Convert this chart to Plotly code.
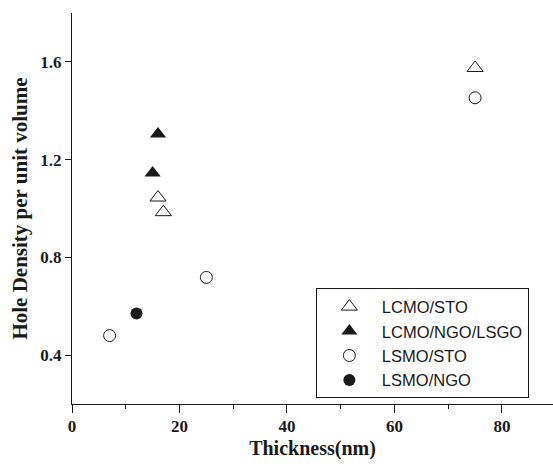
import plotly.graph_objects as go

# Data
lcmo_sto_x = [16, 17, 75]
lcmo_sto_y = [1.045, 0.985, 1.575]
lcmo_ngo_x = [15, 16]
lcmo_ngo_y = [1.145, 1.305]
lsmo_sto_x = [7, 25, 75]
lsmo_sto_y = [0.48, 0.718, 1.453]
lsmo_ngo_x = [12]
lsmo_ngo_y = [0.57]

x_ticks = [0, 20, 40, 60, 80]
y_ticks = [0.4, 0.8, 1.2, 1.6]

ink = "#1a1a1a"
serif = "Liberation Serif"

fig = go.Figure()
fig.add_trace(go.Scatter(x=lcmo_sto_x, y=lcmo_sto_y, mode="markers", name="LCMO/STO",
                         marker=dict(symbol="triangle-up-open", size=14, color=ink, line=dict(width=1))))
fig.add_trace(go.Scatter(x=lcmo_ngo_x, y=lcmo_ngo_y, mode="markers", name="LCMO/NGO/LSGO",
                         marker=dict(symbol="triangle-up", size=14, color=ink, line=dict(width=0))))
fig.add_trace(go.Scatter(x=lsmo_sto_x, y=lsmo_sto_y, mode="markers", name="LSMO/STO",
                         marker=dict(symbol="circle-open", size=12, color=ink, line=dict(width=1))))
fig.add_trace(go.Scatter(x=lsmo_ngo_x, y=lsmo_ngo_y, mode="markers", name="LSMO/NGO",
                         marker=dict(symbol="circle", size=12, color=ink, line=dict(width=0))))

xr = [0, 89.5]
yr = [0.2, 1.8]

fig.update_layout(
    width=553, height=464,
    margin=dict(l=72, r=0, t=13, b=60),
    paper_bgcolor="white", plot_bgcolor="white",
    showlegend=True,
    legend=dict(x=0.507, y=0.155, xanchor="left", yanchor="middle",
                bordercolor=ink, borderwidth=1, bgcolor="white",
                font=dict(family="Liberation Sans", size=16.5, color=ink),
                itemwidth=55, tracegroupgap=0),
    xaxis=dict(range=xr, tickvals=x_ticks, ticks="outside", ticklen=8, tickwidth=1.3,
               tickcolor=ink, showline=True, linecolor=ink, linewidth=1.3,
               showgrid=False, zeroline=False, automargin=False, ticklabelstandoff=-2,
               minor=dict(dtick=10, tick0=0, ticks="outside", ticklen=4, tickwidth=1.3, tickcolor=ink),
               tickfont=dict(family=serif, size=17, color=ink, weight="bold"),
               title=dict(text="Thickness(nm)", standoff=6,
                          font=dict(family=serif, size=20, color=ink, weight="bold"))),
    yaxis=dict(range=yr, tickvals=y_ticks, tickformat=".1f", ticks="outside", ticklen=6, tickwidth=1.3,
               tickcolor=ink, showline=True, linecolor=ink, linewidth=1.3,
               showgrid=False, zeroline=False, automargin=False,
               tickfont=dict(family=serif, size=17, color=ink, weight="bold"),
               title=dict(text="Hole Density per unit volume", standoff=6,
                          font=dict(family=serif, size=21, color=ink, weight="bold"))),
    xaxis2=dict(range=xr, overlaying="x", side="top", anchor="y", tickvals=x_ticks,
                ticks="inside", ticklen=7, tickwidth=1.3, tickcolor=ink,
                showline=True, linecolor=ink, linewidth=1.3, showticklabels=False,
                showgrid=False, zeroline=False,
                minor=dict(dtick=10, tick0=0, ticks="inside", ticklen=4, tickwidth=1.3, tickcolor=ink)),
    yaxis2=dict(range=yr, overlaying="y", side="right", anchor="x", tickvals=y_ticks,
                ticks="inside", ticklen=6, tickwidth=1.3, tickcolor=ink,
                showline=True, linecolor=ink, linewidth=1.3, showticklabels=False,
                showgrid=False, zeroline=False),
)

fig.write_html("out.html")
